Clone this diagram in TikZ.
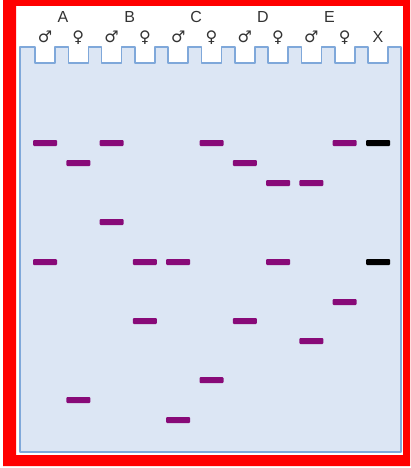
\documentclass[tikz,border=0pt]{standalone}
\usepackage{fontspec}
\setmainfont{Liberation Sans}
\newfontfamily\symfont{DejaVu Sans}
\definecolor{FrameClr}{rgb}{1,0,0}
\definecolor{GelClr}{HTML}{DCE6F4}
\definecolor{GelEdge}{HTML}{7FA8DA}
\definecolor{BandClr}{HTML}{880A78}
\definecolor{LabelClr}{HTML}{333333}
\tikzset{
  band/.style={fill=BandClr,rounded corners=1pt},
  ladder/.style={fill=black,rounded corners=1pt},
  letter/.style={text=LabelClr,font=\fontsize{16}{16}\selectfont,inner sep=0pt},
  sexsym/.style={text=LabelClr,font=\symfont\fontsize{16}{16}\selectfont,inner sep=0pt}
}

\begin{document}
\begin{tikzpicture}[x=1pt,y=-1pt]

\useasboundingbox (0,0) rectangle (410,468);

% red frame
\fill[FrameClr,even odd rule] (3,0) rectangle (410,466) (16,6) rectangle (403,455);

% gel with wells
\filldraw[fill=GelClr,draw=GelEdge,line width=1.6pt,line join=round]
  (20,452) -- (20,47)
  \foreach \k in {0,...,10}{
    -- ({35+33.3*\k},47) -- ({35+33.3*\k},63)
    -- ({55+33.3*\k},63) -- ({55+33.3*\k},47)
  }
  -- (401,47) -- (401,452) -- cycle;

% labels
\foreach \n [count=\i from 0] in {A,B,C,D,E}
  \node[letter] (lbl\n) at ({63+66.6*\i},17) {\n};
\foreach \k in {0,...,4}{
  \node[sexsym] (male\k) at ({45+66.6*\k},37) {♂};
  \node[sexsym] (female\k) at ({78.3+66.6*\k},38) {♀};
}
\node[letter] (lblX) at (378,37) {X};

% bands (lane/y)
\foreach \l/\y in {1/143,1/262,2/163,2/400,3/143,3/222,4/262,4/321,
                   5/262,5/420,6/143,6/380,7/163,7/321,8/183,8/262,
                   9/183,9/341,10/143,10/302}
  \fill[band] ({45+33.3*(\l-1)-12},{\y-3}) rectangle ++(24,6);

\foreach \y in {143,262}
  \fill[ladder] ({378-12},{\y-3}) rectangle ++(24,6);

\end{tikzpicture}
\end{document}
